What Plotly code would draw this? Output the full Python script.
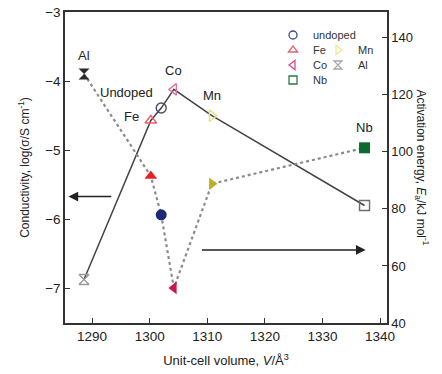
import plotly.graph_objects as go

# ---- data ----
dopants = ["Al", "Fe", "undoped", "Co", "Mn", "Nb"]
volume = [1288.6, 1300.2, 1302.0, 1304.2, 1310.8, 1337.3]
conductivity = [-6.87, -4.57, -4.39, -4.12, -4.50, -5.80]
activation = [127.3, 91.5, 77.9, 52.3, 88.8, 101.4]
point_labels = ["Al", "Fe", "Undoped", "Co", "Mn", "Nb"]

x_ticks = [1290, 1300, 1310, 1320, 1330, 1340]
y_ticks = [-3, -4, -5, -6, -7]
y2_ticks = [40, 60, 80, 100, 120, 140]

# ---- styles ----
symbols = {"Al": "hourglass", "Fe": "triangle-up", "undoped": "circle",
           "Co": "triangle-left", "Mn": "triangle-right", "Nb": "square"}
open_col = {"Al": "#9a9a9a", "Fe": "#e8606e", "undoped": "#4a4e66",
            "Co": "#e070a0", "Mn": "#e8e27a", "Nb": "#6e6e6e"}
leg_col = {"Al": "#a8a8a8", "Fe": "#e8606e", "undoped": "#3a4a8a",
           "Co": "#d8508a", "Mn": "#ecea9a", "Nb": "#2a7a44"}
fill_col = {"Al": "#2a2a2a", "Fe": "#e8202a", "undoped": "#1a2a78",
            "Co": "#c81850", "Mn": "#bdb020", "Nb": "#0a6a30"}

FONT = "Liberation Sans, Arial, sans-serif"

W, H = 442, 374
L, R, T, B = 65, 55, 12, 51
PW, PH = W - L - R, H - T - B

fig = go.Figure()

fig.add_trace(go.Scatter(x=volume, y=conductivity, mode="lines",
                         line=dict(color="#444444", width=1.5),
                         showlegend=False, yaxis="y"))
fig.add_trace(go.Scatter(x=volume, y=activation, mode="lines",
                         line=dict(color="#8a8a8a", width=2.2, dash="dot"),
                         showlegend=False, yaxis="y2"))

for i, d in enumerate(dopants):
    fig.add_trace(go.Scatter(
        x=[volume[i]], y=[conductivity[i]], mode="markers",
        marker=dict(symbol=symbols[d] + "-open", size=10,
                    color=open_col[d], line=dict(width=1.4, color=open_col[d])),
        showlegend=False, yaxis="y"))
    fig.add_trace(go.Scatter(
        x=[volume[i]], y=[activation[i]], mode="markers",
        marker=dict(symbol=symbols[d], size=11, color=fill_col[d],
                    line=dict(width=0)),
        showlegend=False, yaxis="y2"))

# legend: one single-entry legend per item, 2-column grid (pixels)
legend_layout = {
    "undoped": (273, 35), "Fe": (273, 50), "Co": (273, 65), "Nb": (273, 80),
    "Mn": (318, 50), "Al": (318, 65),
}
legend_defs = {}
for k, d in enumerate(["undoped", "Fe", "Co", "Nb", "Mn", "Al"]):
    lname = "legend" if k == 0 else f"legend{k + 1}"
    fig.add_trace(go.Scatter(
        x=[None], y=[None], mode="markers", name=d,
        marker=dict(symbol=symbols[d] + "-open", size=8,
                    color=leg_col[d], line=dict(width=1.3, color=leg_col[d])),
        legend=lname, yaxis="y"))
    px, py = legend_layout[d]
    legend_defs[lname] = dict(x=(px - L) / PW, y=(H - B - py) / PH,
                              xanchor="left", yanchor="middle",
                              bgcolor="rgba(0,0,0,0)",
                              font=dict(size=11, family=FONT, color="#333"),
                              itemwidth=30)

annotations = []
lab_cfg = {
    "Al": dict(yref="y2", yv=activation[0], xs=0, ys=18, xa="center"),
    "Fe": dict(yref="y", yv=conductivity[1], xs=-10, ys=4, xa="right"),
    "Undoped": dict(yref="y", yv=conductivity[2], xs=-6, ys=16, xa="right"),
    "Co": dict(yref="y", yv=conductivity[3], xs=0, ys=19, xa="center"),
    "Mn": dict(yref="y", yv=conductivity[4], xs=0, ys=20, xa="center"),
    "Nb": dict(yref="y2", yv=activation[5], xs=0, ys=20, xa="center"),
}
for i, lab in enumerate(point_labels):
    c = lab_cfg[lab]
    annotations.append(dict(x=volume[i], y=c["yv"], xref="x", yref=c["yref"],
                            text=lab, showarrow=False, xanchor=c["xa"],
                            xshift=c["xs"], yshift=c["ys"],
                            font=dict(size=13, color="#222", family=FONT)))

# arrows
annotations.append(dict(x=1285.9, y=-5.67, xref="x", yref="y",
                        ax=1293.6, ay=-5.67, axref="x", ayref="y",
                        showarrow=True, arrowhead=2, arrowsize=1.3,
                        arrowwidth=1.5, arrowcolor="#222", text=""))
annotations.append(dict(x=1337.5, y=65.6, xref="x", yref="y2",
                        ax=1308.8, ay=65.6, axref="x", ayref="y2",
                        showarrow=True, arrowhead=2, arrowsize=1.3,
                        arrowwidth=1.5, arrowcolor="#222", text=""))

# right axis title (reads top to bottom)
annotations.append(dict(x=(433 - L) / PW, y=0.5, xref="paper", yref="paper",
                        text="Activation energy, <i>E</i><sub>a</sub>/kJ mol<sup>-1</sup>",
                        textangle=90, showarrow=False,
                        font=dict(size=12, color="#222", family=FONT)))

axis_common = dict(ticks="inside", ticklen=5, tickwidth=1.2, tickcolor="#333",
                   showline=True, linecolor="#333", linewidth=1.5,
                   showgrid=False, zeroline=False, automargin=False)

fig.update_layout(
    width=W, height=H,
    margin=dict(l=L, r=R, t=T, b=B),
    paper_bgcolor="white", plot_bgcolor="white",
    font=dict(family=FONT, color="#222"),
    xaxis=dict(range=[1285.3, 1341.2], tickvals=x_ticks, mirror=True,
               tickfont=dict(size=13.5, color="#222", family=FONT),
               title=dict(text="Unit-cell volume, <i>V</i>/Å<sup>3</sup>",
                          font=dict(size=13, family=FONT), standoff=13),
               **axis_common),
    yaxis=dict(range=[-7.5, -3], tickvals=y_ticks,
               tickfont=dict(size=13.5, color="#222", family=FONT),
               title=dict(text="Conductivity, log(σ/S cm<sup>-1</sup>)",
                          font=dict(size=12, family=FONT), standoff=13),
               **axis_common),
    yaxis2=dict(range=[40, 149], tickvals=y2_ticks, overlaying="y", side="right",
                tickfont=dict(size=13, color="#222", family=FONT),
                **axis_common),
    annotations=annotations,
    **legend_defs,
)

fig.write_html("out.html", config={"displayModeBar": False},
               post_script="document.body.style.margin='0';")
